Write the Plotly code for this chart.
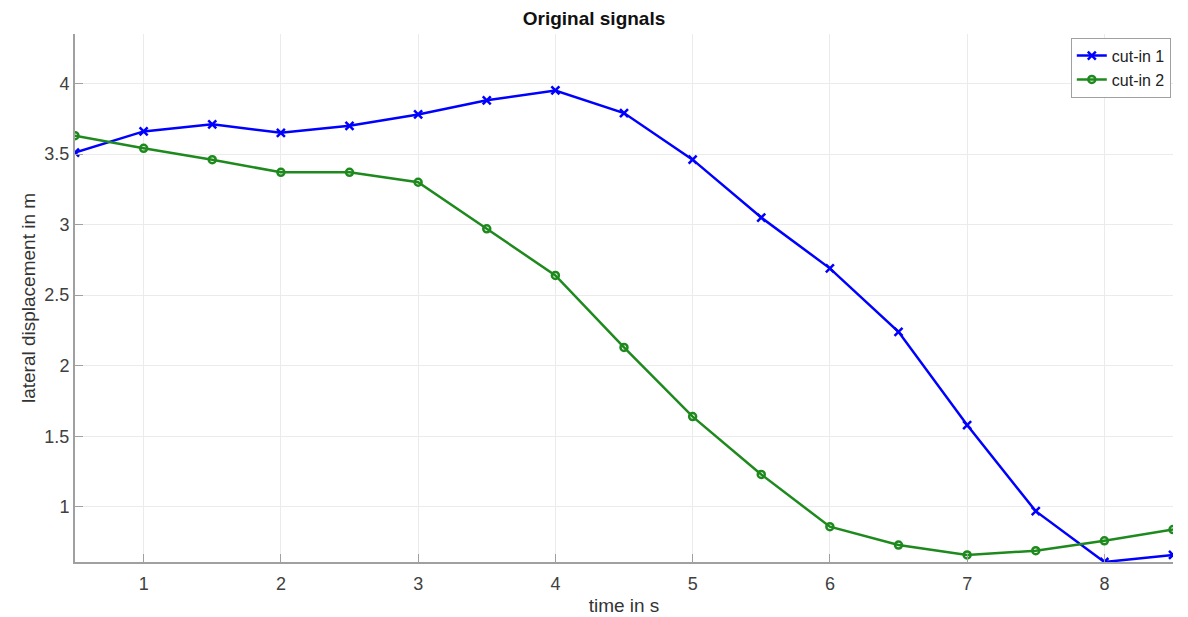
import plotly.graph_objects as go

time_s = [0.5, 1, 1.5, 2, 2.5, 3, 3.5, 4, 4.5, 5, 5.5, 6, 6.5, 7, 7.5, 8, 8.5]
cut_in_1 = [3.51, 3.66, 3.71, 3.65, 3.70, 3.78, 3.88, 3.95, 3.79, 3.46, 3.05, 2.69, 2.24, 1.58, 0.97, 0.61, 0.66]
cut_in_2 = [3.63, 3.54, 3.46, 3.37, 3.37, 3.30, 2.97, 2.64, 2.13, 1.64, 1.23, 0.86, 0.73, 0.66, 0.69, 0.76, 0.84]

fig = go.Figure()
fig.add_trace(go.Scatter(x=time_s, y=cut_in_1, mode="lines+markers", name="cut-in 1",
                         line=dict(color="#0000ff", width=2.5),
                         marker=dict(symbol="x-thin", size=8, line=dict(color="#0000ff", width=2.5))))
fig.add_trace(go.Scatter(x=time_s, y=cut_in_2, mode="lines+markers", name="cut-in 2",
                         line=dict(color="#1e8a1e", width=2.5),
                         marker=dict(symbol="circle-open", size=7, color="#1e8a1e", line=dict(color="#1e8a1e", width=2.5))))

axis_common = dict(showline=True, linecolor="#a0a0a0", linewidth=2, mirror=False,
                   showgrid=True, gridcolor="#ebebeb", gridwidth=1,
                   ticks="inside", ticklen=8, tickcolor="#a0a0a0", tickwidth=1,
                   zeroline=False, automargin=False,
                   tickfont=dict(size=18, color="#404040"))

fig.update_xaxes(range=[0.5, 8.5], tickvals=[1, 2, 3, 4, 5, 6, 7, 8],
                 ticklabelstandoff=4,
                 title=dict(text="time in s", font=dict(size=19, color="#333333"), standoff=6),
                 **axis_common)
fig.update_yaxes(range=[0.61, 4.35], tickvals=[1, 1.5, 2, 2.5, 3, 3.5, 4],
                 ticktext=["1", "1.5", "2", "2.5", "3", "3.5", "4"],
                 title=dict(text="lateral displacement in m", font=dict(size=19, color="#333333"), standoff=4),
                 **axis_common)

fig.update_layout(
    width=1188, height=617,
    margin=dict(l=75, r=15, t=34, b=55),
    paper_bgcolor="white", plot_bgcolor="white",
    font=dict(family="Liberation Sans, Arial, sans-serif", color="#333333"),
    title=dict(text="<b>Original signals</b>", x=0.5, xanchor="center", y=0.970, yanchor="middle",
               font=dict(size=19, color="#111111"), automargin=False),
    legend=dict(x=0.998, y=0.993, xanchor="right", yanchor="top",
                bgcolor="white", bordercolor="#a0a0a0", borderwidth=1,
                font=dict(size=16, color="#222222"), tracegroupgap=0,
                itemwidth=30),
    showlegend=True,
)

fig.write_html("out.html")
